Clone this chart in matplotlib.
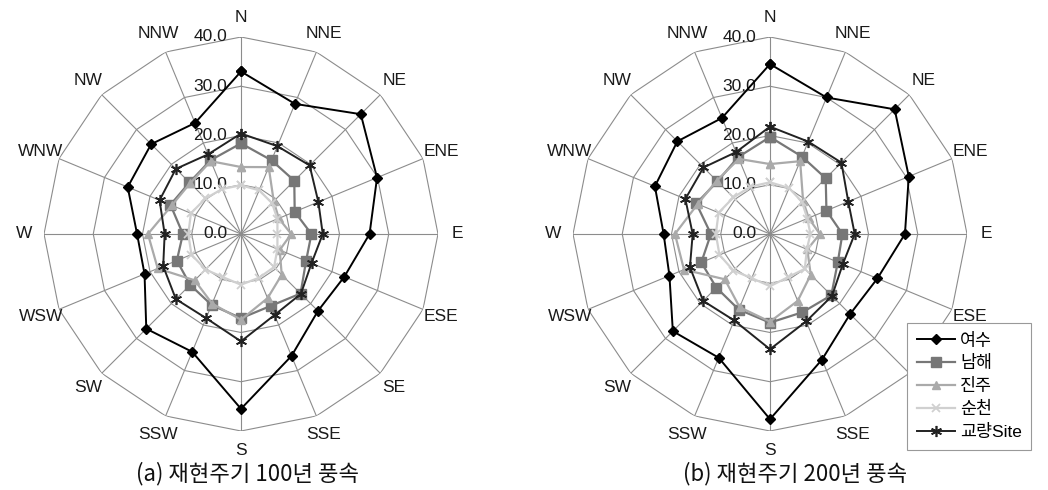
import numpy as np
import matplotlib
matplotlib.use('Agg')
import matplotlib.pyplot as plt

directions = ['N', 'NNE', 'NE', 'ENE', 'E', 'ESE', 'SE', 'SSE',
              'S', 'SSW', 'SW', 'WSW', 'W', 'WNW', 'NW', 'NNW']
ring_values = [0, 10, 20, 30, 40]
ring_labels = ['0.0', '10.0', '20.0', '30.0', '40.0']
series_names = ['여수', '남해', '진주', '순천', '교량Site']
titles = ['(a) 재현주기 100년 풍속', '(b) 재현주기 200년 풍속']

yeosu_100 = [33.0, 28.6, 34.4, 29.9, 26.1, 22.7, 22.1, 26.8, 35.5, 25.9, 27.2, 21.2, 21.1, 24.9, 25.8, 24.4]
namhae_100 = [18.4, 16.2, 15.3, 11.8, 14.3, 14.3, 17.1, 15.8, 17.1, 15.6, 14.6, 14.1, 11.8, 15.5, 14.8, 16.2]
jinju_100 = [13.6, 14.7, 9.4, 8.3, 10.2, 8.5, 11.7, 14.1, 17.4, 15.3, 13.3, 18.3, 18.9, 15.2, 14.6, 16.0]
suncheon_100 = [9.9, 9.6, 8.9, 8.0, 7.4, 8.0, 9.5, 9.6, 10.3, 9.5, 10.2, 10.9, 10.7, 11.0, 10.2, 9.9]
site_100 = [20.4, 19.3, 19.7, 17.0, 16.6, 15.5, 17.2, 17.8, 21.8, 18.5, 18.7, 17.1, 15.5, 17.9, 18.7, 17.5]

yeosu_200 = [34.5, 30.0, 35.8, 30.5, 27.4, 23.6, 23.0, 27.6, 37.6, 27.2, 27.9, 22.1, 21.6, 25.3, 26.6, 25.5]
namhae_200 = [19.7, 17.0, 16.0, 12.4, 14.7, 14.9, 17.6, 17.2, 18.0, 16.6, 15.4, 15.1, 12.0, 16.2, 15.1, 16.9]
jinju_200 = [14.2, 16.0, 9.5, 8.5, 10.1, 8.2, 11.7, 14.7, 17.8, 16.1, 13.0, 18.9, 19.3, 15.9, 15.3, 16.5]
suncheon_200 = [10.5, 10.1, 9.2, 8.2, 8.2, 8.1, 10.0, 9.5, 10.6, 9.7, 10.5, 11.1, 11.0, 11.3, 10.5, 10.4]
site_200 = [21.8, 20.3, 20.5, 17.2, 17.2, 16.0, 17.8, 19.2, 23.4, 19.0, 19.2, 17.6, 15.7, 18.6, 19.1, 18.0]

styles = [
    dict(color='#000000', marker='D', markersize=5, lw=1.4),
    dict(color='#777777', marker='s', markersize=7, lw=1.6),
    dict(color='#aaaaaa', marker='^', markersize=6, lw=1.6),
    dict(color='#d0d0d0', marker='x', markersize=6, lw=1.6, mew=1.3),
    dict(color='#222222', marker=(6, 2, 0), markersize=8, lw=1.4, mew=1.2),
]

plt.rcParams['font.family'] = ['Liberation Sans', 'Noto Sans CJK KR', 'DejaVu Sans']

fig = plt.figure(figsize=(10.48, 4.90), dpi=100)

n = len(directions)
theta = np.arange(n) * 2 * np.pi / n
theta_c = np.append(theta, theta[0])

W, H = 1048, 490
R = 197
centers = [(241, 234), (770, 234)]
title_pos = [(247, 474), (795, 474)]
datasets = [
    [yeosu_100, namhae_100, jinju_100, suncheon_100, site_100],
    [yeosu_200, namhae_200, jinju_200, suncheon_200, site_200],
]

handles = []
for k, (cx, cy) in enumerate(centers):
    ax = fig.add_axes([(cx - R) / W, (H - cy - R) / H, 2 * R / W, 2 * R / H],
                      projection='polar')
    ax.set_theta_zero_location('N')
    ax.set_theta_direction(-1)
    ax.set_ylim(0, 40)
    ax.grid(False)
    ax.spines['polar'].set_visible(False)
    ax.set_xticks([])
    ax.set_yticks([])
    ax.patch.set_alpha(0)
    for v in ring_values[1:]:
        ax.plot(theta_c, np.full(n + 1, v), color='#8c8c8c', lw=0.8, zorder=1)
    for t in theta:
        ax.plot([t, t], [0, 40], color='#8c8c8c', lw=0.8, zorder=1)
    for v, lab in zip(ring_values, ring_labels):
        ax.annotate(lab, xy=(0, v), xytext=(-10, 0), textcoords='offset points',
                    ha='right', va='center', fontsize=12.5, color='#1a1a1a',
                    annotation_clip=False, zorder=2)
    for t, d in zip(theta, directions):
        ax.text(t, 44.0, d, ha='center', va='center', fontsize=12.5, color='#1a1a1a')
    for name, vals, st in zip(series_names, datasets[k], styles):
        vv = np.append(vals, vals[0])
        ln, = ax.plot(theta_c, vv, label=name, zorder=3, clip_on=False, **st)
        if k == 0:
            handles.append(ln)
    tx, ty = title_pos[k]
    fig.text(tx / W, 1 - ty / H, titles[k], ha='center', va='center', fontsize=16,
             family=['Noto Sans CJK KR', 'DejaVu Sans'], color='#111111')

leg = fig.legend(handles=handles, labels=series_names, loc='upper left',
                 bbox_to_anchor=(907 / W, 1 - 323 / H), frameon=True, fancybox=False,
                 edgecolor='#999999', framealpha=1,
                 prop={'family': ['Liberation Sans', 'Noto Sans CJK KR'], 'size': 12.5},
                 handlelength=2.2, labelspacing=0.4, borderpad=0.55, handletextpad=0.3,
                 borderaxespad=0)
leg.get_frame().set_linewidth(0.8)

fig.savefig('out.png', dpi=100)
